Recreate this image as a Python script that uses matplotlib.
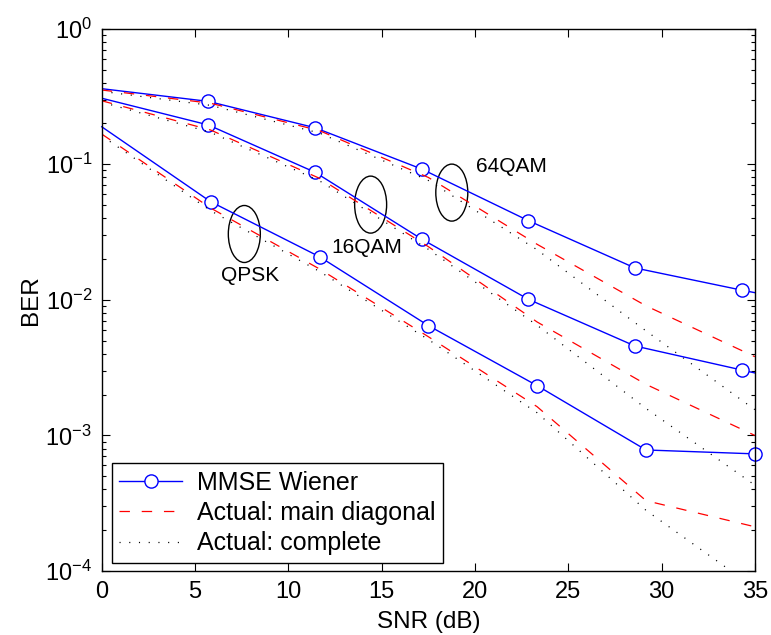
import matplotlib
matplotlib.use("Agg")
import matplotlib.pyplot as plt
from matplotlib.patches import Ellipse
from matplotlib.transforms import ScaledTranslation

plt.rcParams["font.family"] = ["Liberation Sans", "DejaVu Sans"]
plt.rcParams["mathtext.fontset"] = "custom"
plt.rcParams["mathtext.rm"] = "Liberation Sans"
plt.rcParams["mathtext.it"] = "Liberation Sans:italic"
plt.rcParams["lines.scale_dashes"] = False

# SNR grids
snr_mmse = [0, 5.71, 11.43, 17.14, 22.86, 28.57, 34.29, 35]
snr_qpsk = [0, 5.83, 11.67, 17.5, 23.33, 29.17, 35]
snr_act = [0, 5.83, 11.67, 17.5, 23.33, 29.17, 35]

# MMSE Wiener
mmse_64qam = [0.361, 0.291, 0.186, 0.0923, 0.0384, 0.0172, 0.0118, 0.0113]
mmse_16qam = [0.307, 0.195, 0.0873, 0.0281, 0.0101, 0.00457, 0.00304, 0.00289]
mmse_qpsk = [0.189, 0.053, 0.0208, 0.00646, 0.00233, 0.000781, 0.000731]

# Actual: main diagonal
diag_64qam = [0.353, 0.282, 0.177, 0.080, 0.0257, 0.00903, 0.00381]
diag_16qam = [0.294, 0.179, 0.0788, 0.0247, 0.00687, 0.00238, 0.00100]
diag_qpsk = [0.167, 0.0476, 0.0169, 0.00535, 0.00163, 0.00033, 0.000212]

# Actual: complete
comp_64qam = [0.345, 0.272, 0.170, 0.076, 0.0234, 0.0059, 0.00155]
comp_16qam = [0.287, 0.172, 0.0755, 0.0236, 0.0065, 0.00158, 0.00043]
comp_qpsk = [0.162, 0.0455, 0.0162, 0.0051, 0.00147, 0.00028, 0.000075]

# group annotations
groups = ["QPSK", "16QAM", "64QAM"]
ell_x = [7.64, 14.41, 18.76]
ell_y = [0.0306, 0.0504, 0.0618]
txt_x = [7.94, 14.21, 21.98]
txt_y = [0.0152, 0.0245, 0.097]

fig = plt.figure(figsize=(7.71, 6.35), dpi=100)
ax = fig.add_axes([0.132, 0.1008, 0.847, 0.854])

blue = dict(color="#0000ff", lw=1.0, marker="o", markersize=9.5,
            markerfacecolor="white", markeredgecolor="#0000ff", markeredgewidth=1.0)
red = dict(color="#ff0000", lw=0.9, linestyle=(0, (7.5, 8.5)))
black = dict(color="black", lw=0.9, linestyle=(0, (0.8, 6.2)))

ax.plot(snr_mmse, mmse_64qam, markevery=list(range(1, 7)), label="MMSE Wiener", **blue)
ax.plot(snr_act, diag_64qam, label="Actual: main diagonal", **red)
ax.plot(snr_act, comp_64qam, label="Actual: complete", **black)
ax.plot(snr_mmse, mmse_16qam, markevery=list(range(1, 7)), **blue)
ax.plot(snr_act, diag_16qam, **red)
ax.plot(snr_act, comp_16qam, **black)
ax.plot(snr_qpsk, mmse_qpsk, markevery=list(range(1, 7)), clip_on=False, **blue)
ax.plot(snr_act, diag_qpsk, **red)
ax.plot(snr_act, comp_qpsk, **black)

for i in range(3):
    tr = fig.dpi_scale_trans + ScaledTranslation(ell_x[i], ell_y[i], ax.transData)
    ax.add_patch(Ellipse((0, 0), 0.32, 0.57, transform=tr, fill=False,
                         edgecolor="black", lw=1.0))
    ax.text(txt_x[i], txt_y[i], groups[i], fontsize=15, ha="center", va="center")

ax.set_yscale("log")
ax.set_xlim(0, 35)
ax.set_ylim(1e-4, 1)
ax.set_xticks(range(0, 36, 5))
ax.set_yticks([1e-4, 1e-3, 1e-2, 1e-1, 1])
ax.set_yticklabels([r"$10^{-4}$", r"$10^{-3}$", r"$10^{-2}$", r"$10^{-1}$", r"$10^{0}$"])
ax.tick_params(which="both", direction="in", top=True, right=True, labelsize=17, width=0.8)
ax.tick_params(which="major", length=6, pad=7)
ax.tick_params(which="minor", length=3)
ax.tick_params(axis="x", which="minor", top=False, bottom=False)
for s in ax.spines.values():
    s.set_linewidth(1.0)

ax.set_xlabel("SNR (dB)", fontsize=17.5, labelpad=6)
ax.set_ylabel("BER", fontsize=17.5, labelpad=2)

leg = ax.legend(loc="lower left", bbox_to_anchor=(0.0153, 0.0148), borderaxespad=0,
                fontsize=18, handlelength=2.5, fancybox=False, framealpha=1,
                edgecolor="black", borderpad=0.3, labelspacing=0.25, handletextpad=0.59)
leg.get_frame().set_linewidth(1.0)

fig.savefig("out.png", dpi=100)
